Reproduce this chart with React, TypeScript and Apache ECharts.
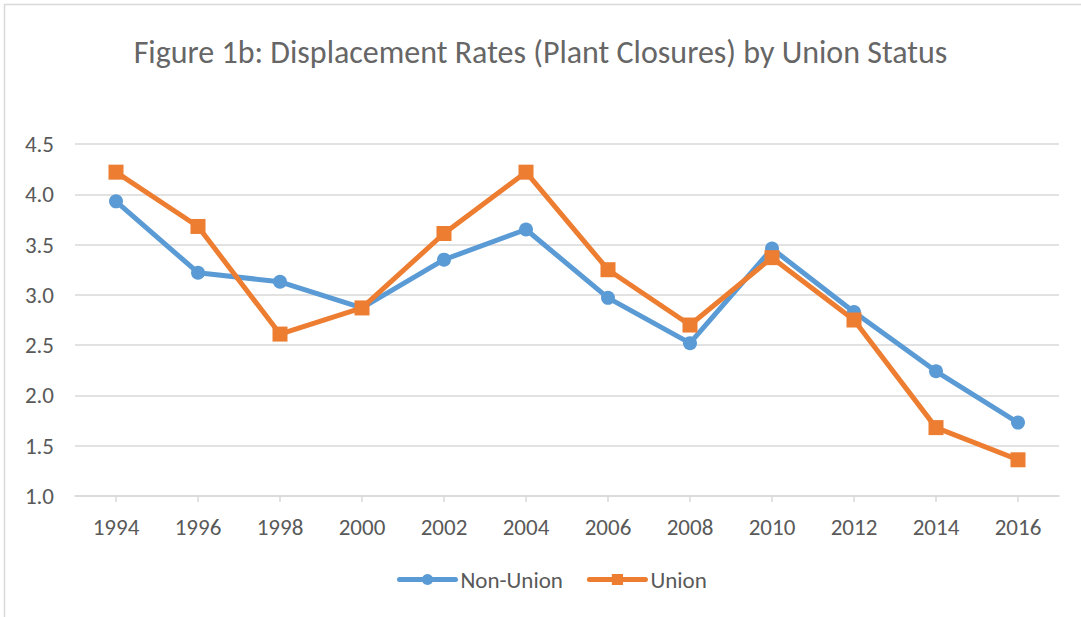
import React, { useEffect, useRef } from "react";
import * as echarts from "echarts";

const years = ["1994", "1996", "1998", "2000", "2002", "2004", "2006", "2008", "2010", "2012", "2014", "2016"];
const nonUnion = [3.93, 3.22, 3.13, 2.87, 3.35, 3.65, 2.97, 2.52, 3.46, 2.83, 2.24, 1.73];
const union = [4.22, 3.68, 2.61, 2.87, 3.61, 4.22, 3.25, 2.70, 3.37, 2.75, 1.68, 1.36];

const FONT = "Carlito, 'Open Sans', 'Liberation Sans', sans-serif";
const TXT = "#595959";

export default function App() {
  const ref = useRef<HTMLDivElement>(null);
  useEffect(() => {
    if (!ref.current) return;
    const chart = echarts.init(ref.current, undefined, { renderer: "svg" });
    chart.setOption({
      animation: false,
      backgroundColor: "#ffffff",
      title: {
        text: "Figure 1b: Displacement Rates (Plant Closures) by Union Status",
        left: "center",
        top: 31,
        textStyle: { fontFamily: FONT, fontSize: 32, fontWeight: "normal", color: "#666666" },
      },
      graphic: [
        {
          type: "rect",
          shape: { x: 4.5, y: 4.5, width: 1200, height: 800 },
          style: { fill: "none", stroke: "#d9d9d9", lineWidth: 1.5 },
          silent: true,
        },
      ],
      legend: {
        top: 563,
        left: 392,
        itemWidth: 56,
        itemHeight: 14,
        itemGap: 24,
        lineStyle: { width: 5, cap: "round" },
        textStyle: { fontFamily: FONT, fontSize: 23, color: TXT },
        data: ["Non-Union", "Union"],
      },
      grid: { left: 75, right: 22, top: 144, bottom: 121, containLabel: false },
      xAxis: {
        type: "category",
        data: years,
        boundaryGap: true,
        axisLine: { lineStyle: { color: "#d9d9d9", width: 1.5 } },
        axisTick: { show: true, alignWithLabel: true, length: 6, lineStyle: { color: "#d9d9d9", width: 1.5 } },
        axisLabel: { fontFamily: FONT, fontSize: 23, color: TXT, margin: 19 },
      },
      yAxis: {
        type: "value",
        min: 1,
        max: 4.5,
        interval: 0.5,
        axisLine: { show: false },
        axisTick: { show: false },
        splitLine: { lineStyle: { color: "#d9d9d9", width: 1.5 } },
        axisLabel: {
          fontFamily: FONT,
          fontSize: 23,
          color: TXT,
          margin: 21,
          formatter: (v: number) => v.toFixed(1),
        },
      },
      series: [
        {
          name: "Non-Union",
          type: "line",
          data: nonUnion,
          symbol: "circle",
          symbolSize: 14,
          itemStyle: { color: "#5B9BD5" },
          lineStyle: { color: "#5B9BD5", width: 5 },
        },
        {
          name: "Union",
          type: "line",
          data: union,
          symbol: "rect",
          symbolSize: 15,
          itemStyle: { color: "#ED7D31" },
          lineStyle: { color: "#ED7D31", width: 5 },
        },
      ],
    });
    return () => chart.dispose();
  }, []);
  return <div ref={ref} style={{ position: "fixed", left: 0, top: 0, width: 1081, height: 617 }} />;
}
